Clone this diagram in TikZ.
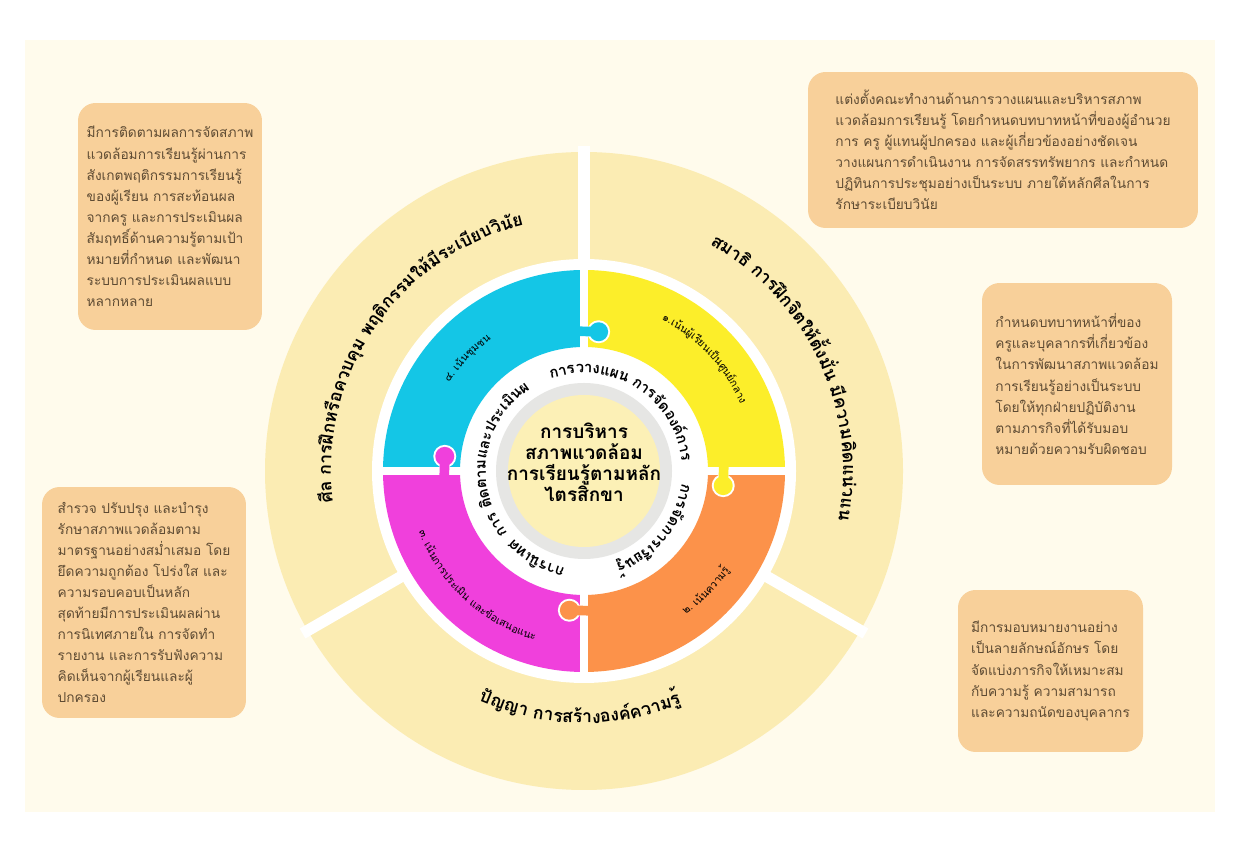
\documentclass[tikz,border=0pt]{standalone}
\usepackage{fontspec}
\newfontfamily\thaifont[Script=Thai]{Loma}
\usetikzlibrary{decorations.text}
\definecolor{cbg}{HTML}{FFFBEC}
\definecolor{cband}{HTML}{FBECB3}
\definecolor{cbox}{HTML}{F8D09A}
\definecolor{ctext}{HTML}{5E4B33}
\definecolor{cyell}{HTML}{FCEE2A}
\definecolor{ccyan}{HTML}{14C6E6}
\definecolor{cmag}{HTML}{F040DC}
\definecolor{corng}{HTML}{FC924A}
\definecolor{cdisc}{HTML}{FCF0B6}
\definecolor{cring}{HTML}{E6E6E4}
\tikzset{
  every picture/.style={x=0.02cm, y=0.02cm},
  infobox/.style={fill=cbox, rounded corners=10pt, align=left, inner sep=0pt, text=ctext,
    font=\thaifont\fontsize{7.8}{12}\selectfont},
  hub/.style={align=center, font=\thaifont\bfseries\fontsize{10.8}{12}\selectfont},
}
% annular sector: colour, from, to, inner r, outer r
\newcommand\annsector[5]{\fill[#1] (#2:#5) arc[start angle=#2, end angle=#3, radius=#5]
  -- (#3:#4) arc[start angle=#3, end angle=#2, radius=#4] -- cycle;}
% text on an arc: from, to, radius, format, text
\newcommand\arclabel[5]{\path[decorate, decoration={text along path, text align=center,
  text={|#4|#5}}] (#1:#3) arc[start angle=#1, end angle=#2, radius=#3];}
\newcommand\bigfont{\thaifont\bfseries\fontsize{10}{12}\selectfont}
\newcommand\ringfont{\thaifont\bfseries\fontsize{8.5}{10}\selectfont}
\newcommand\tinyfont{\thaifont\fontsize{6}{7}\selectfont}

\begin{document}
\begin{tikzpicture}
  \useasboundingbox (0,0) rectangle (1260,848);
  \fill[white] (0,0) rectangle (1260,848);
  \fill[cbg] (25,36) rectangle (1215,808);

  % the wheel
  \begin{scope}[shift={(584,377)}]
    \fill[cband] (0,0) circle (319);
    \fill[white] (0,0) circle (212);
    \foreach \a in {90,210,330}
      \draw[white, line width=6.5pt] (\a:205) -- (\a:325);
    \annsector{cyell}{0}{90}{124}{201}
    \annsector{ccyan}{90}{180}{124}{201}
    \annsector{cmag}{180}{270}{124}{201}
    \annsector{corng}{270}{360}{124}{201}
    \foreach \a in {0,90,180,270}
      \draw[white, line width=4.5pt] (\a:120) -- (\a:205);
    \foreach \col/\ga/\ka in {ccyan/90/84, cyell/0/-6, cmag/180/174, corng/270/264} {
      \fill[white] (\ka:140) circle (11.5);
      \draw[\col, line width=5.5pt] (\ga+3:140) -- (\ka:140);
      \fill[\col] (\ka:140) circle (9.5);
    }
    \fill[cring] (0,0) circle (88);
    \fill[cdisc] (0,0) circle (76);
    \node[hub] (hub) at (0,9) {การบริหาร\\สภาพแวดล้อม\\การเรียนรู้ตามหลัก\\ไตรสิกขา};

    % outer band
    \arclabel{190}{101}{253}{\bigfont}{{ศีล} {การ}{ฝึก}{หรือ}{ควบ}{คุม} {พฤ}{ติ}{กรรม}{ให้}{มี}{ระ}{เบียบ}{วิ}{นัย}}
    \arclabel{61}{-11}{259}{\bigfont}{{สมา}{ธิ} {การ}{ฝึก}{จิต}{ให้}{ตั้ง}{มั่น} {มี}{ความ}{คิด}{แน่ว}{แน่}}
    \arclabel{243}{295}{252}{\bigfont}{{ปัญ}{ญา} {การ}{สร้าง}{องค์}{ความ}{รู้}}

    % inner band
    \arclabel{111}{63}{98}{\ringfont}{{การ}{วาง}{แผน}}
    \arclabel{60}{7}{98}{\ringfont}{{การ}{จัด}{องค์}{การ}}
    \arclabel{-2}{-76}{98}{\ringfont}{{การ}{จัด}{การ}{เรียน}{รู้}}
    \arclabel{261}{222}{98}{\ringfont}{{การ}{นิ}{เทศ}}
    \arclabel{216}{121}{98}{\ringfont}{{การ} {ติด}{ตาม}{และ}{ประ}{เมิน}{ผล}}

    % quadrant labels
    \arclabel{66}{20}{170}{\tinyfont}{{๑.}{เน้น}{ผู้}{เรียน}{เป็น}{ศูนย์}{กลาง}}
    \arclabel{146}{126}{161}{\tinyfont}{{๔.} {เน้น}{ชุม}{ชน}}
    \arclabel{196}{258}{176}{\tinyfont}{{๓.} {เน้น}{การ}{ประ}{เมิน} {และ}{ข้อ}{เสนอ}{แนะ}}
    \arclabel{303}{328}{176}{\tinyfont}{{๒.} {เน้น}{ความ}{รู้}}
  \end{scope}

  % notes
  \node[infobox, minimum width=3.68cm, minimum height=4.54cm] (plan) at (170,631.5)
    {มีการติดตามผลการจัดสภาพ\\แวดล้อมการเรียนรู้ผ่านการ\\สังเกตพฤติกรรมการเรียนรู้\\ของผู้เรียน การสะท้อนผล\\จากครู และการประเมินผล\\สัมฤทธิ์ด้านความรู้ตามเป้า\\หมายที่กำหนด และพัฒนา\\ระบบการประเมินผลแบบ\\หลากหลาย};
  \node[infobox, minimum width=7.8cm, minimum height=3.12cm] (team) at (1003,698)
    {แต่งตั้งคณะทำงานด้านการวางแผนและบริหารสภาพ\\แวดล้อมการเรียนรู้ โดยกำหนดบทบาทหน้าที่ของผู้อำนวย\\การ ครู ผู้แทนผู้ปกครอง และผู้เกี่ยวข้องอย่างชัดเจน\\วางแผนการดำเนินงาน การจัดสรรทรัพยากร และกำหนด\\ปฏิทินการประชุมอย่างเป็นระบบ ภายใต้หลักศีลในการ\\รักษาระเบียบวินัย};
  \node[infobox, minimum width=3.8cm, minimum height=4.04cm] (duty) at (1077,464)
    {กำหนดบทบาทหน้าที่ของ\\ครูและบุคลากรที่เกี่ยวข้อง\\ในการพัฒนาสภาพแวดล้อม\\การเรียนรู้อย่างเป็นระบบ\\โดยให้ทุกฝ่ายปฏิบัติงาน\\ตามภารกิจที่ได้รับมอบ\\หมายด้วยความรับผิดชอบ};
  \node[infobox, minimum width=3.7cm, minimum height=3.24cm] (assign) at (1050.5,177)
    {มีการมอบหมายงานอย่าง\\เป็นลายลักษณ์อักษร โดย\\จัดแบ่งภารกิจให้เหมาะสม\\กับความรู้ ความสามารถ\\และความถนัดของบุคลากร};
  \node[infobox, minimum width=4.08cm, minimum height=4.62cm] (care) at (144,245.5)
    {สำรวจ ปรับปรุง และบำรุง\\รักษาสภาพแวดล้อมตาม\\มาตรฐานอย่างสม่ำเสมอ โดย\\ยึดความถูกต้อง โปร่งใส และ\\ความรอบคอบเป็นหลัก\\สุดท้ายมีการประเมินผลผ่าน\\การนิเทศภายใน การจัดทำ\\รายงาน และการรับฟังความ\\คิดเห็นจากผู้เรียนและผู้\\ปกครอง};
\end{tikzpicture}
\end{document}
